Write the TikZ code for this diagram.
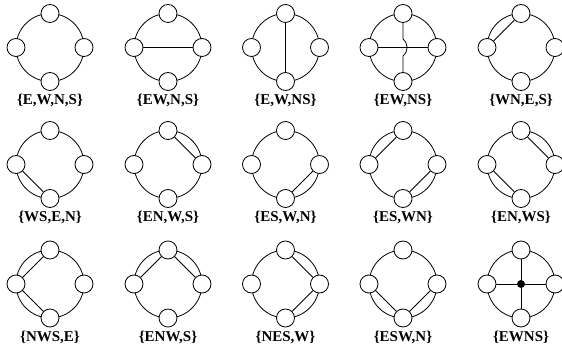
\documentclass[tikz,border=0pt]{standalone}
\usepackage{fontspec}
\setmainfont{Liberation Serif}
\usetikzlibrary{calc}
\tikzset{
  ring/.style={line width=0.8pt},
  port/.style={circle, draw, line width=0.8pt, fill=white, minimum size=18pt, inner sep=0pt},
  link/.style={line width=0.8pt},
  hub/.style={circle, fill=black, minimum size=8pt, inner sep=0pt},
  lbl/.style={font=\fontsize{15}{18}\selectfont\bfseries, inner sep=0pt},
}
\newcommand\gadget[4]{%
  \coordinate (#1-c) at (#2,#3);
  \draw[ring] (#1-c) circle[radius=34pt];
  \node[port] (#1-N) at ($(#1-c)+(0,-34)$) {};
  \node[port] (#1-S) at ($(#1-c)+(0,34)$) {};
  \node[port] (#1-W) at ($(#1-c)+(-34,0)$) {};
  \node[port] (#1-E) at ($(#1-c)+(34,0)$) {};
  \node[lbl] (#1-l) at ($(#1-c)+(0,53)$) {#4};
}
\begin{document}
\begin{tikzpicture}[x=1pt,y=-1pt]
\useasboundingbox (0,0) rectangle (562,347);
% row 1
\gadget{a}{50}{47.5}{\{E,W,N,S\}}
\gadget{b}{168}{47.5}{\{EW,N,S\}}
\draw[link] (b-W) -- (b-E);
\gadget{c}{285.5}{47.5}{\{E,W,NS\}}
\draw[link] (c-N) -- (c-S);
\gadget{d}{403}{47.5}{\{EW,NS\}}
\draw[link] (d-W) -- (d-E);
\coordinate (d-h1) at ($(d-c)+(0,-8.5)$);
\coordinate (d-h2) at ($(d-c)+(0,8.5)$);
\draw[link] (d-N) -- (d-h1) .. controls ($(d-h1)+(5.5,5)$) and ($(d-h2)+(5.5,-5)$) .. (d-h2) -- (d-S);
\gadget{e}{521}{47.5}{\{WN,E,S\}}
\draw[link] (e-W) -- (e-N);
% row 2
\gadget{f}{50}{164.5}{\{WS,E,N\}}
\draw[link] (f-W) -- (f-S);
\gadget{g}{168}{164.5}{\{EN,W,S\}}
\draw[link] (g-N) -- (g-E);
\gadget{h}{285.5}{164.5}{\{ES,W,N\}}
\draw[link] (h-E) -- (h-S);
\gadget{i}{403}{164.5}{\{ES,WN\}}
\draw[link] (i-E) -- (i-S);
\draw[link] (i-W) -- (i-N);
\gadget{j}{521}{164.5}{\{EN,WS\}}
\draw[link] (j-N) -- (j-E);
\draw[link] (j-W) -- (j-S);
% row 3
\gadget{k}{50}{284}{\{NWS,E\}}
\draw[link] (k-W) -- (k-N);
\draw[link] (k-W) -- (k-S);
\gadget{l}{168}{284}{\{ENW,S\}}
\draw[link] (l-W) -- (l-N);
\draw[link] (l-N) -- (l-E);
\gadget{m}{285.5}{284}{\{NES,W\}}
\draw[link] (m-N) -- (m-E);
\draw[link] (m-E) -- (m-S);
\gadget{n}{403}{284}{\{ESW,N\}}
\draw[link] (n-W) -- (n-S);
\draw[link] (n-E) -- (n-S);
\gadget{o}{521}{284}{\{EWNS\}}
\node[hub] (o-hub) at (o-c) {};
\draw[link] (o-W) -- (o-hub);
\draw[link] (o-hub) -- (o-E);
\draw[link] (o-N) -- (o-hub);
\draw[link] (o-hub) -- (o-S);
\end{tikzpicture}
\end{document}
